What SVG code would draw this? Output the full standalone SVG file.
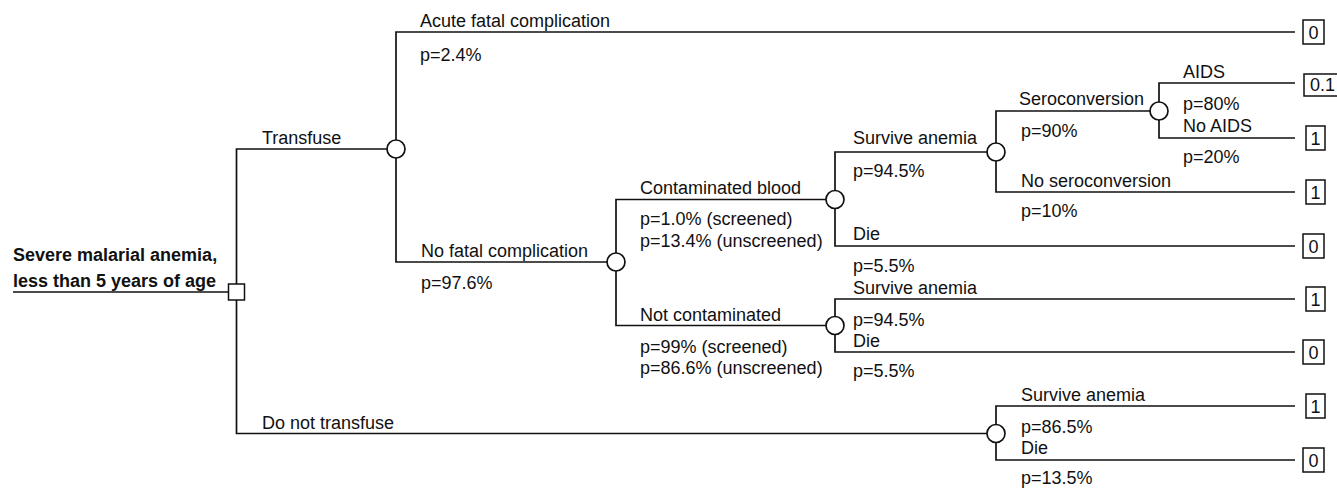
<svg xmlns="http://www.w3.org/2000/svg" width="1337" height="489" viewBox="0 0 1337 489">
<style>
.ln{fill:none;stroke:#111;stroke-width:1.7}
.ch{fill:#fff;stroke:#111;stroke-width:1.7}
.tb{fill:#fff;stroke:#111;stroke-width:1.5}
text{font-family:"Liberation Sans",Arial,Helvetica,sans-serif;font-size:18px;fill:#111}
.b{font-weight:bold}
.tv{text-anchor:middle}
</style>
<rect width="1337" height="489" fill="#fff"/>
<g id="connectors">
<path class="ln" d="M13,292 H228"/>
<path class="ln" d="M236.5,284 V149 H387"/>
<path class="ln" d="M236.5,300 V433.5 H987"/>
<path class="ln" d="M396,140 V32 H1295"/>
<path class="ln" d="M396,158 V262 H607"/>
<path class="ln" d="M616,253 V199.5 H826"/>
<path class="ln" d="M616,271 V325.5 H826"/>
<path class="ln" d="M835,190.5 V152 H987"/>
<path class="ln" d="M835,208.5 V246 H1295"/>
<path class="ln" d="M996,143 V111 H1150"/>
<path class="ln" d="M996,161 V192 H1295"/>
<path class="ln" d="M1159,102 V83 H1295"/>
<path class="ln" d="M1159,120 V138 H1295"/>
<path class="ln" d="M835,316.5 V299 H1295"/>
<path class="ln" d="M835,334.5 V352 H1295"/>
<path class="ln" d="M996,424.5 V406 H1295"/>
<path class="ln" d="M996,442.5 V460 H1295"/>
</g>
<g id="labels">
<text x="420" y="27">Acute fatal complication</text>
<text x="420" y="61">p=2.4%</text>
<text x="262" y="144">Transfuse</text>
<text x="421" y="257">No fatal complication</text>
<text x="421" y="289">p=97.6%</text>
<text x="262" y="429">Do not transfuse</text>
<text x="640" y="194">Contaminated blood</text>
<text x="640" y="225">p=1.0% (screened)</text>
<text x="640" y="247">p=13.4% (unscreened)</text>
<text x="640" y="321">Not contaminated</text>
<text x="640" y="353">p=99% (screened)</text>
<text x="640" y="374">p=86.6% (unscreened)</text>
<text x="853" y="144">Survive anemia</text>
<text x="853" y="177">p=94.5%</text>
<text x="853" y="240">Die</text>
<text x="853" y="272">p=5.5%</text>
<text x="1019" y="105">Seroconversion</text>
<text x="1021" y="137">p=90%</text>
<text x="1021" y="187">No seroconversion</text>
<text x="1021" y="217">p=10%</text>
<text x="1183" y="78">AIDS</text>
<text x="1183" y="110">p=80%</text>
<text x="1183" y="132">No AIDS</text>
<text x="1183" y="163">p=20%</text>
<text x="853" y="294">Survive anemia</text>
<text x="853" y="326">p=94.5%</text>
<text x="853" y="347">Die</text>
<text x="853" y="377">p=5.5%</text>
<text x="1021" y="401">Survive anemia</text>
<text x="1021" y="433">p=86.5%</text>
<text x="1021" y="454">Die</text>
<text x="1021" y="484">p=13.5%</text>
</g>
<g id="root">
<text class="b" x="13" y="261">Severe malarial anemia,</text>
<text class="b" x="13" y="287">less than 5 years of age</text>
<rect class="tb" x="228.5" y="284" width="16" height="16"/>
</g>
<g id="chance-transfuse"><circle class="ch" cx="396" cy="149" r="9"/></g>
<g id="chance-nofatal"><circle class="ch" cx="616" cy="262" r="9"/></g>
<g id="chance-contaminated"><circle class="ch" cx="835" cy="199.5" r="9"/></g>
<g id="chance-survive"><circle class="ch" cx="996" cy="152" r="9"/></g>
<g id="chance-sero"><circle class="ch" cx="1159" cy="111" r="9"/></g>
<g id="chance-notcontaminated"><circle class="ch" cx="835" cy="325.5" r="9"/></g>
<g id="chance-donottransfuse"><circle class="ch" cx="996" cy="433.5" r="9"/></g>
<g id="term-acute"><rect class="tb" x="1303" y="20" width="21" height="24"/><text class="tv" x="1313.5" y="38.5">0</text></g>
<g id="term-aids"><rect class="tb" x="1304" y="74" width="45" height="22"/><text x="1310" y="91">0.1</text></g>
<g id="term-noaids"><rect class="tb" x="1306" y="126" width="19" height="24"/><text class="tv" x="1315.5" y="144.5">1</text></g>
<g id="term-nosero"><rect class="tb" x="1306" y="180" width="19" height="24"/><text class="tv" x="1315.5" y="198.5">1</text></g>
<g id="term-die1"><rect class="tb" x="1303" y="234" width="21" height="24"/><text class="tv" x="1313.5" y="252.5">0</text></g>
<g id="term-survive2"><rect class="tb" x="1306" y="287" width="19" height="24"/><text class="tv" x="1315.5" y="305.5">1</text></g>
<g id="term-die2"><rect class="tb" x="1303" y="340" width="21" height="24"/><text class="tv" x="1313.5" y="358.5">0</text></g>
<g id="term-survive3"><rect class="tb" x="1306" y="394" width="19" height="24"/><text class="tv" x="1315.5" y="412.5">1</text></g>
<g id="term-die3"><rect class="tb" x="1303" y="448" width="21" height="24"/><text class="tv" x="1313.5" y="466.5">0</text></g>
</svg>
